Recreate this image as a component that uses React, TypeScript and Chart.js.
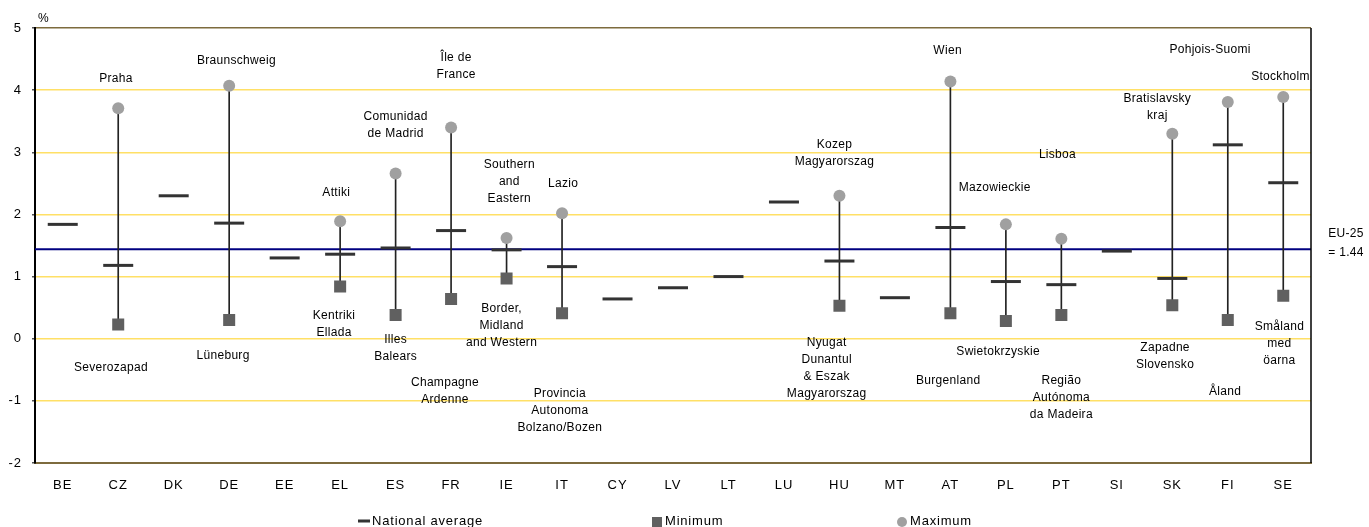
import React, { useEffect, useRef } from "react";
import { Chart, registerables } from "chart.js";

Chart.register(...registerables);

// ---------- data ----------
const categories = ["BE", "CZ", "DK", "DE", "EE", "EL", "ES", "FR", "IE", "IT", "CY", "LV", "LT", "LU", "HU", "MT", "AT", "PL", "PT", "SI", "SK", "FI", "SE"];
const nationalAverage = [1.84, 1.18, 2.3, 1.86, 1.3, 1.36, 1.46, 1.74, 1.43, 1.16, 0.64, 0.82, 1.0, 2.2, 1.25, 0.66, 1.79, 0.92, 0.87, 1.41, 0.97, 3.12, 2.51];
const minimum = [null, 0.23, null, 0.3, null, 0.84, 0.38, 0.64, 0.97, 0.41, null, null, null, null, 0.53, null, 0.41, 0.285, 0.38, null, 0.54, 0.3, 0.69];
const maximum = [null, 3.71, null, 4.07, null, 1.89, 2.66, 3.4, 1.62, 2.02, null, null, null, null, 2.3, null, 4.14, 1.84, 1.61, null, 3.3, 3.81, 3.89];
const euAverage = 1.44;
const yTicks = [-2, -1, 0, 1, 2, 3, 4, 5];

const maxRegion = ["", "Praha", "", "Braunschweig", "", "Attiki", "Comunidad\nde Madrid", "Île de\nFrance", "Southern\nand\nEastern", "Lazio", "", "", "", "", "Kozep\nMagyarorszag", "", "Wien", "Mazowieckie", "Lisboa", "", "Bratislavsky\nkraj", "Pohjois-Suomi", "Stockholm"];
const minRegion = ["", "Severozapad", "", "Lüneburg", "", "Kentriki\nEllada", "Illes\nBalears", "Champagne\nArdenne", "Border,\nMidland\nand Western", "Provincia\nAutonoma\nBolzano/Bozen", "", "", "", "", "Nyugat\nDunantul\n& Eszak\nMagyarorszag", "", "Burgenland", "Swietokrzyskie", "Região\nAutónoma\nda Madeira", "", "Zapadne\nSlovensko", "Åland", "Småland\nmed\nöarna"];

// ---------- annotation anchors (value units / category fractions) ----------
const maxLabelAt = [null, 4.18, null, 4.47, null, 2.35, 3.57, 4.52, 2.8, 2.49, null, null, null, null, 3.12, null, 4.63, 2.43, 2.96, null, 3.86, 4.65, 4.21];
const maxLabelShift = [0, -0.04, 0, 0.13, 0, -0.07, 0, 0.09, 0.05, 0.02, 0, 0, 0, 0, -0.09, 0, -0.05, -0.2, -0.07, 0, -0.27, -0.32, -0.05];
const minLabelAt = [null, -0.47, null, -0.28, null, 0.37, -0.01, -0.71, 0.48, -0.88, null, null, null, null, -0.06, null, -0.68, -0.21, -0.68, null, -0.14, -0.86, 0.19];
const minLabelShift = [0, -0.13, 0, -0.11, 0, -0.11, 0, -0.11, -0.09, -0.04, 0, 0, 0, 0, -0.23, 0, -0.04, -0.14, 0, 0, -0.13, -0.05, -0.07];

const FONT = '"Liberation Sans", Arial, sans-serif';

const spacingPlugin = {
  id: "spacing",
  beforeDraw(chart: any) {
    (chart.ctx as any).letterSpacing = "1px";
  },
};

const decorPlugin = {
  id: "decor",
  beforeDatasetsDraw(chart: any) {
    const { ctx, chartArea, scales } = chart;
    const yy = scales.y.getPixelForValue(euAverage);
    ctx.save();
    ctx.strokeStyle = "#000080";
    ctx.lineWidth = 2;
    ctx.beginPath();
    ctx.moveTo(chartArea.left, yy);
    ctx.lineTo(chartArea.right, yy);
    ctx.stroke();
    ctx.restore();
  },
  afterDatasetsDraw(chart: any) {
    const { ctx, chartArea, scales } = chart;
    const x = scales.x;
    const y = scales.y;
    const step = x.getPixelForValue(1) - x.getPixelForValue(0);
    ctx.save();
    // right border
    ctx.strokeStyle = "#000";
    ctx.lineWidth = 1.5;
    ctx.beginPath();
    ctx.moveTo(chartArea.right, chartArea.top);
    ctx.lineTo(chartArea.right, chartArea.bottom);
    ctx.stroke();

    ctx.font = `12px ${FONT}`;
    (ctx as any).letterSpacing = "0.3px";
    ctx.fillStyle = "#000";
    ctx.textAlign = "center";
    ctx.textBaseline = "middle";
    const drawSet = (labels: string[], at: (number | null)[], shift: number[]) => {
      labels.forEach((txt, i) => {
        if (!txt || at[i] == null) return;
        const cx = x.getPixelForValue(i) + shift[i] * step;
        const cy = y.getPixelForValue(at[i] as number);
        txt.split("\n").forEach((line, k) => ctx.fillText(line, cx, cy + k * 17));
      });
    };
    drawSet(maxRegion, maxLabelAt, maxLabelShift);
    drawSet(minRegion, minLabelAt, minLabelShift);

    // EU-25 label
    const ey = y.getPixelForValue(euAverage);
    ctx.fillText("EU-25", chartArea.right + 35, ey - 16);
    ctx.fillText("= 1.44", chartArea.right + 35, ey + 3);

    // % unit
    ctx.textAlign = "left";
    ctx.fillText("%", chartArea.left + 3, chartArea.top - 9);

    // legend
    const ly = chartArea.bottom + 58;
    const l = chartArea.left;
    ctx.font = `13px ${FONT}`;
    (ctx as any).letterSpacing = "0.8px";
    ctx.fillStyle = "#333";
    ctx.fillRect(l + 323, ly - 1.5, 12, 3);
    ctx.fillStyle = "#000";
    ctx.fillText("National average", l + 337, ly);
    ctx.fillStyle = "#606060";
    ctx.fillRect(l + 617, ly - 4, 10, 10);
    ctx.fillStyle = "#000";
    ctx.fillText("Minimum", l + 630, ly);
    ctx.fillStyle = "#a0a0a0";
    ctx.beginPath();
    ctx.arc(l + 867, ly + 1, 5, 0, Math.PI * 2);
    ctx.fill();
    ctx.fillStyle = "#000";
    ctx.fillText("Maximum", l + 875, ly);
    ctx.restore();
  },
  afterDraw(chart: any) {
    (chart.ctx as any).letterSpacing = "0px";
  },
};

export default function App() {
  const ref = useRef<HTMLCanvasElement>(null);
  useEffect(() => {
    document.body.style.margin = "0";
    document.body.style.overflow = "hidden";
    if (!ref.current) return;
    const ranges = categories.map((_, i) =>
      minimum[i] != null && maximum[i] != null ? [minimum[i], maximum[i]] : null
    );
    const chart = new Chart(ref.current, {
      type: "bar",
      data: {
        labels: categories,
        datasets: [
          {
            type: "bar",
            label: "Range",
            data: ranges as any,
            backgroundColor: "#222",
            barThickness: 1,
            order: 3,
          } as any,
          {
            type: "line",
            label: "National average",
            data: nationalAverage,
            showLine: false,
            pointStyle: "line",
            pointRadius: 15,
            pointBorderWidth: 3,
            pointBorderColor: "#333",
            pointBackgroundColor: "#333",
            order: 2,
          },
          {
            type: "line",
            label: "Minimum",
            data: minimum as any,
            showLine: false,
            pointStyle: "rect",
            pointRadius: 8.5,
            pointBorderWidth: 0,
            pointBackgroundColor: "#606060",
            pointBorderColor: "#606060",
            order: 1,
          },
          {
            type: "line",
            label: "Maximum",
            data: maximum as any,
            showLine: false,
            pointStyle: "circle",
            pointRadius: 6,
            pointBorderWidth: 0,
            pointBackgroundColor: "#a0a0a0",
            pointBorderColor: "#a0a0a0",
            order: 0,
          },
        ],
      },
      options: {
        responsive: true,
        maintainAspectRatio: false,
        animation: false,
        events: [],
        layout: { padding: { top: 28, right: 58, bottom: 0, left: 0 } },
        plugins: { legend: { display: false }, tooltip: { enabled: false } },
        scales: {
          x: {
            offset: true,
            grid: { display: false, drawTicks: false },
            border: { display: true, color: "#7d6b3d", width: 2 },
            ticks: { color: "#000", font: { size: 13, family: FONT }, padding: 15, maxRotation: 0, autoSkip: false },
            afterFit: (s: any) => {
              s.height = 64;
            },
          },
          y: {
            min: -2,
            max: 5,
            afterBuildTicks: (s: any) => {
              s.ticks = yTicks.map((v) => ({ value: v }));
            },
            grid: {
              color: (c: any) => (c.tick && (c.tick.value === 5 || c.tick.value === -2) ? "#7d6b3d" : "#FFE066"),
              lineWidth: 1.5,
              tickColor: "#555",
              tickLength: 3,
            },
            border: { display: true, color: "#000", width: 2 },
            ticks: { color: "#000", font: { size: 13, family: FONT }, padding: 10 },
            afterFit: (s: any) => {
              s.width = 35;
            },
          },
        },
      },
      plugins: [spacingPlugin, decorPlugin],
    } as any);
    return () => chart.destroy();
  }, []);
  return (
    <div style={{ width: 1369, height: 527, position: "relative" }}>
      <canvas ref={ref} />
    </div>
  );
}
